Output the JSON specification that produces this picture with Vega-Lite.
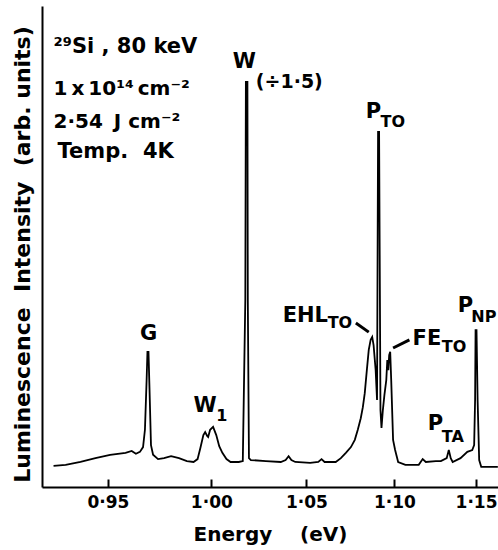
{
  "$schema": "https://vega.github.io/schema/vega-lite/v6.json",
  "width": 456,
  "height": 481,
  "autosize": {"type": "none"},
  "padding": {"left": 42, "top": 6, "right": 0, "bottom": 63},
  "background": "white",
  "config": {"font": "DejaVu Sans", "view": {"stroke": null}},
  "datasets": {
    "spectrum": [
      {"energy":0.9253,"intensity":4.4},{"energy":0.9307,"intensity":4.6},{"energy":0.9374,"intensity":5.2},
      {"energy":0.9442,"intensity":6.0},{"energy":0.9510,"intensity":6.7},{"energy":0.9582,"intensity":7.1},
      {"energy":0.9611,"intensity":7.5},{"energy":0.9631,"intensity":6.9},{"energy":0.9650,"intensity":7.3},
      {"energy":0.9665,"intensity":8.3},{"energy":0.9674,"intensity":11.9},{"energy":0.9682,"intensity":22.2},
      {"energy":0.9686,"intensity":28.1},{"energy":0.9691,"intensity":28.1},{"energy":0.9696,"intensity":20.2},
      {"energy":0.9703,"intensity":8.7},{"energy":0.9713,"intensity":6.7},{"energy":0.9737,"intensity":5.8},
      {"energy":0.9766,"intensity":6.0},{"energy":0.9800,"intensity":6.4},{"energy":0.9839,"intensity":6.0},
      {"energy":0.9878,"intensity":5.4},{"energy":0.9911,"intensity":5.2},{"energy":0.9931,"intensity":5.8},
      {"energy":0.9945,"intensity":8.1},{"energy":0.9960,"intensity":10.8},{"energy":0.9969,"intensity":11.4},
      {"energy":0.9979,"intensity":10.6},{"energy":0.9984,"intensity":10.4},{"energy":0.9994,"intensity":11.9},
      {"energy":1.0009,"intensity":12.5},{"energy":1.0025,"intensity":10.8},{"energy":1.0040,"intensity":8.5},
      {"energy":1.0056,"intensity":7.1},{"energy":1.0077,"intensity":5.8},{"energy":1.0098,"intensity":5.2},
      {"energy":1.0140,"intensity":5.2},{"energy":1.0161,"intensity":5.4},{"energy":1.0174,"intensity":38.9},
      {"energy":1.0177,"intensity":84.2},{"energy":1.0185,"intensity":84.2},{"energy":1.0187,"intensity":38.9},
      {"energy":1.0193,"intensity":6.0},{"energy":1.0203,"intensity":5.6},{"energy":1.0282,"intensity":5.4},
      {"energy":1.0361,"intensity":5.2},{"energy":1.0387,"intensity":5.6},{"energy":1.0403,"intensity":6.4},
      {"energy":1.0418,"intensity":5.6},{"energy":1.0439,"intensity":5.2},{"energy":1.0520,"intensity":5.0},
      {"energy":1.0565,"intensity":5.2},{"energy":1.0583,"intensity":5.8},{"energy":1.0600,"intensity":5.2},
      {"energy":1.0662,"intensity":5.2},{"energy":1.0691,"intensity":6.0},{"energy":1.0719,"intensity":7.1},
      {"energy":1.0748,"intensity":8.3},{"energy":1.0770,"intensity":9.8},{"energy":1.0787,"intensity":11.9},
      {"energy":1.0804,"intensity":14.3},{"energy":1.0816,"intensity":16.6},{"energy":1.0827,"intensity":19.5},
      {"energy":1.0839,"intensity":24.3},{"energy":1.0850,"intensity":28.5},{"energy":1.0861,"intensity":30.6},
      {"energy":1.0870,"intensity":31.2},{"energy":1.0878,"intensity":29.5},{"energy":1.0890,"intensity":24.3},
      {"energy":1.0898,"intensity":18.1},{"energy":1.0904,"intensity":73.8},{"energy":1.0910,"intensity":73.8},
      {"energy":1.0918,"intensity":16.0},{"energy":1.0924,"intensity":12.3},{"energy":1.0932,"intensity":16.0},
      {"energy":1.0941,"intensity":19.1},{"energy":1.0952,"intensity":22.2},{"energy":1.0958,"intensity":26.4},
      {"energy":1.0964,"intensity":24.3},{"energy":1.0969,"intensity":27.4},{"energy":1.0975,"intensity":28.1},
      {"energy":1.0981,"intensity":22.2},{"energy":1.0992,"intensity":9.8},{"energy":1.1004,"intensity":7.7},
      {"energy":1.1022,"intensity":5.2},{"energy":1.1065,"intensity":4.6},{"energy":1.1145,"intensity":4.6},
      {"energy":1.1169,"intensity":5.8},{"energy":1.1188,"intensity":5.2},{"energy":1.1249,"intensity":5.4},
      {"energy":1.1280,"intensity":5.4},{"energy":1.1316,"intensity":6.0},{"energy":1.1329,"intensity":7.7},
      {"energy":1.1341,"intensity":6.0},{"energy":1.1353,"intensity":5.2},{"energy":1.1402,"intensity":6.0},
      {"energy":1.1445,"intensity":7.3},{"energy":1.1476,"intensity":7.7},{"energy":1.1488,"intensity":8.7},
      {"energy":1.1494,"intensity":18.1},{"energy":1.1497,"intensity":32.6},{"energy":1.1503,"intensity":32.6},
      {"energy":1.1510,"intensity":18.1},{"energy":1.1520,"intensity":5.6},{"energy":1.1533,"intensity":4.2},
      {"energy":1.1640,"intensity":4.2}
    ],
    "labels": [
      {"energy":0.9253,"intensity":90.2,"text":"²⁹Si , 80 keV","kind":"info"},
      {"energy":0.9253,"intensity":81.5,"text":"1\u2009x\u200910¹⁴\u2009cm⁻²","kind":"info2"},
      {"energy":0.9253,"intensity":74.6,"text":"2·54\u2009 J cm⁻²","kind":"info2"},
      {"energy":0.9271,"intensity":68.4,"text":"Temp.\u00a0 4K","kind":"info"},
      {"energy":0.9650,"intensity":30.6,"text":"G","kind":"main"},
      {"energy":1.0109,"intensity":87.1,"text":"W","kind":"main"},
      {"energy":0.9911,"intensity":15.6,"text":"W","kind":"main"},
      {"energy":1.0833,"intensity":76.7,"text":"P","kind":"main"},
      {"energy":1.0371,"intensity":34.3,"text":"EHL","kind":"main"},
      {"energy":1.1108,"intensity":29.5,"text":"FE","kind":"main"},
      {"energy":1.1384,"intensity":36.4,"text":"P","kind":"main"},
      {"energy":1.1200,"intensity":11.9,"text":"P","kind":"main"},
      {"energy":1.0025,"intensity":13.7,"text":"1","kind":"sub"},
      {"energy":1.0918,"intensity":74.8,"text":"TO","kind":"sub"},
      {"energy":1.0617,"intensity":33.1,"text":"TO","kind":"sub"},
      {"energy":1.1286,"intensity":28.1,"text":"TO","kind":"sub"},
      {"energy":1.1470,"intensity":34.3,"text":"NP","kind":"sub"},
      {"energy":1.1286,"intensity":9.4,"text":"TA","kind":"sub"},
      {"energy":1.0229,"intensity":83.0,"text":"(÷1·5)","kind":"note"}
    ],
    "arrows": [
      {"energy":1.0776,"intensity":34.1,"energy2":1.0850,"intensity2":32.2},
      {"energy":1.0992,"intensity":28.9,"energy2":1.1089,"intensity2":30.6}
    ]
  },
  "encoding": {
    "x": {"field": "energy", "type": "quantitative",
      "scale": {"type": "pow", "exponent": -0.65, "domain": [0.9202, 1.1641], "nice": false, "zero": false},
      "axis": {"values": [0.95, 1.0, 1.05, 1.1, 1.15],
        "labelExpr": "replace(format(datum.value, '.2f'), '.', '·')",
        "tickSize": -8, "tickWidth": 2, "tickColor": "black",
        "domainColor": "black", "domainWidth": 2, "grid": false,
        "labelFontSize": 17, "labelFontWeight": "bold", "labelColor": "black",
        "labelPadding": 15, "labelOverlap": false, "labelFlush": false,
        "title": "Energy\u00a0\u00a0\u00a0 (eV)", "titleFontSize": 20, "titleFontWeight": "bold",
        "titleColor": "black", "titlePadding": 14}},
    "y": {"field": "intensity", "type": "quantitative",
      "scale": {"domain": [0, 100], "nice": false, "zero": false},
      "axis": {"labels": false, "ticks": false, "grid": false, "domain": true,
        "domainColor": "black", "domainWidth": 2,
        "title": "Luminescence\u00a0 Intensity\u00a0 (arb. units)",
        "titleFontSize": 22, "titleFontWeight": "bold", "titleColor": "black", "titlePadding": 8, "titleY": 248}}
  },
  "layer": [
    {
      "data": {"name": "spectrum"},
      "mark": {"type": "line", "color": "black", "strokeWidth": 1.8, "clip": true}
    },
    {
      "data": {"name": "arrows"},
      "mark": {"type": "rule", "color": "black", "strokeWidth": 3},
      "encoding": {"x2": {"field": "energy2"}, "y2": {"field": "intensity2"}}
    },
    {
      "data": {"name": "labels"},
      "transform": [{"filter": "datum.kind === 'info'"}],
      "mark": {"type": "text", "align": "left", "baseline": "alphabetic", "fontSize": 21, "fontWeight": "bold", "color": "black"},
      "encoding": {"text": {"field": "text"}}
    },
    {
      "data": {"name": "labels"},
      "transform": [{"filter": "datum.kind === 'info2'"}],
      "mark": {"type": "text", "align": "left", "baseline": "alphabetic", "fontSize": 20, "fontWeight": "bold", "color": "black"},
      "encoding": {"text": {"field": "text"}}
    },
    {
      "data": {"name": "labels"},
      "transform": [{"filter": "datum.kind === 'main'"}],
      "mark": {"type": "text", "align": "left", "baseline": "alphabetic", "fontSize": 21, "fontWeight": "bold", "color": "black"},
      "encoding": {"text": {"field": "text"}}
    },
    {
      "data": {"name": "labels"},
      "transform": [{"filter": "datum.kind === 'sub'"}],
      "mark": {"type": "text", "align": "left", "baseline": "alphabetic", "fontSize": 16, "fontWeight": "bold", "color": "black"},
      "encoding": {"text": {"field": "text"}}
    },
    {
      "data": {"name": "labels"},
      "transform": [{"filter": "datum.kind === 'note'"}],
      "mark": {"type": "text", "align": "left", "baseline": "alphabetic", "fontSize": 19, "fontWeight": "bold", "color": "black"},
      "encoding": {"text": {"field": "text"}}
    },
    {
      "data": {"values": [{}]},
      "mark": {"type": "rule", "color": "black", "strokeWidth": 2},
      "encoding": {
        "x": {"datum": 0.9202, "type": "quantitative"},
        "x2": {"datum": 1.1641},
        "y": {"datum": 100, "type": "quantitative"}
      }
    }
  ]
}
